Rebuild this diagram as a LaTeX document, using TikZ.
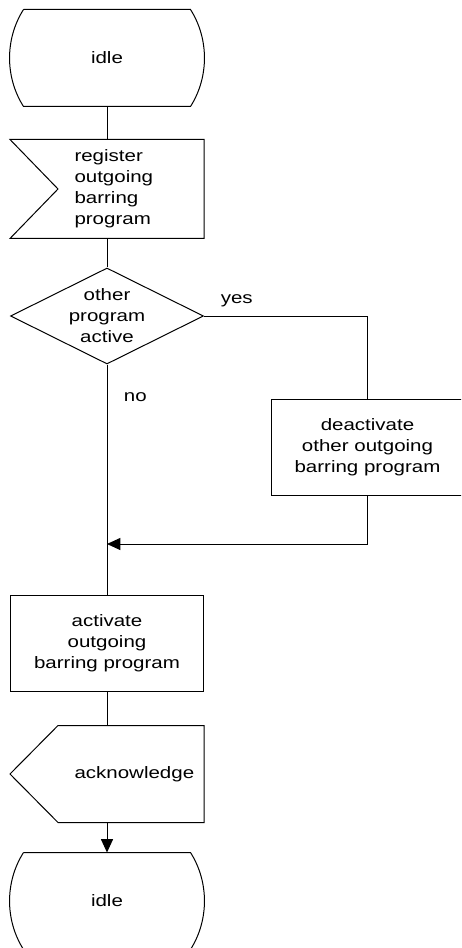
\documentclass[tikz,border=0pt]{standalone}
\usepackage{fontspec}
\setmainfont{Liberation Sans}[FakeStretch=1.24]
\usepackage{tikz}
\usetikzlibrary{shapes,arrows.meta,calc}
\tikzstyle{stateblock}=[rectangle, align=center, minimum width=124.5pt, minimum height=72pt, inner sep=0pt]
\tikzstyle{taskblock}=[rectangle, draw, align=center, minimum width=144.75pt, minimum height=72pt, inner sep=0pt]
\tikzstyle{signalblock}=[rectangle, minimum width=144.75pt, minimum height=72pt, inner sep=0pt]
\tikzstyle{signaltext}=[anchor=west, align=left, inner sep=0pt]
\tikzstyle{decision}=[diamond, draw, align=center, aspect=2, inner sep=0pt, minimum width=144.75pt, minimum height=72pt]
\newcommand{\drawstate}[1]{
 \draw (#1.north west) -- (#1.north east) .. controls +(1.86,-2.93) and +(1.86,2.93) .. (#1.south east)
  -- (#1.south west) .. controls +(-1.86,2.93) and +(-1.86,-2.93) .. (#1.north west);}
\newcommand{\drawinput}[1]{
 \draw (#1.north west) -- (#1.north east) -- (#1.south east) -- (#1.south west) -- ($(#1.west)+(4.8,0)$) -- cycle;}
\newcommand{\drawoutput}[1]{
 \draw ($(#1.north west)+(4.8,0)$) -- (#1.north east) -- (#1.south east) -- ($(#1.south west)+(4.8,0)$) -- (#1.west) -- cycle;}

\begin{document}
\begin{tikzpicture}[x=7.5pt, y=7.5pt, line width=0.75pt,
  every node/.style={font=\fontsize{12.4pt}{15.75pt}\selectfont},
  >={Triangle[length=10pt,width=9pt]}]

\useasboundingbox (0,0) rectangle (46.1,-94.8);
\clip (0,0) rectangle (46.1,-94.8);

\node[stateblock] (idle1) at (10.7,-5.8) {idle};
\node[signalblock, minimum height=73.5pt] (reg) at (10.7,-18.9) {};
\node[signaltext] (regtext) at (7.4,-18.9) {register\\outgoing\\barring\\program};
\node[decision] (active) at (10.7,-31.6) {other\\program\\active};
\node[taskblock] (deact) at (36.75,-44.7) {deactivate\\other outgoing\\barring program};
\coordinate (join) at (10.7,-54.4);
\node[taskblock] (act) at (10.7,-64.3) {activate\\outgoing\\barring program};
\node[signalblock] (ack) at (10.7,-77.4) {};
\node[signaltext] (acktext) at (7.4,-77.4) {acknowledge};
\node[stateblock] (idle2) at (10.7,-90.1) {idle};

\drawstate{idle1}
\drawinput{reg}
\drawoutput{ack}
\drawstate{idle2}

\draw (idle1.south) -- (reg.north);
\draw (reg.south) -- (active.north);
\draw (active.east) -| node[pos=0.1, above=3pt] {yes} (deact.north);
\draw (active.south) -- node[pos=0.14, right=9pt] {no} (act.north);
\draw[->] (deact.south) |- (join);
\draw (act.south) -- (ack.north);
\draw[->] (ack.south) -- (idle2.north);

\end{tikzpicture}
\end{document}
